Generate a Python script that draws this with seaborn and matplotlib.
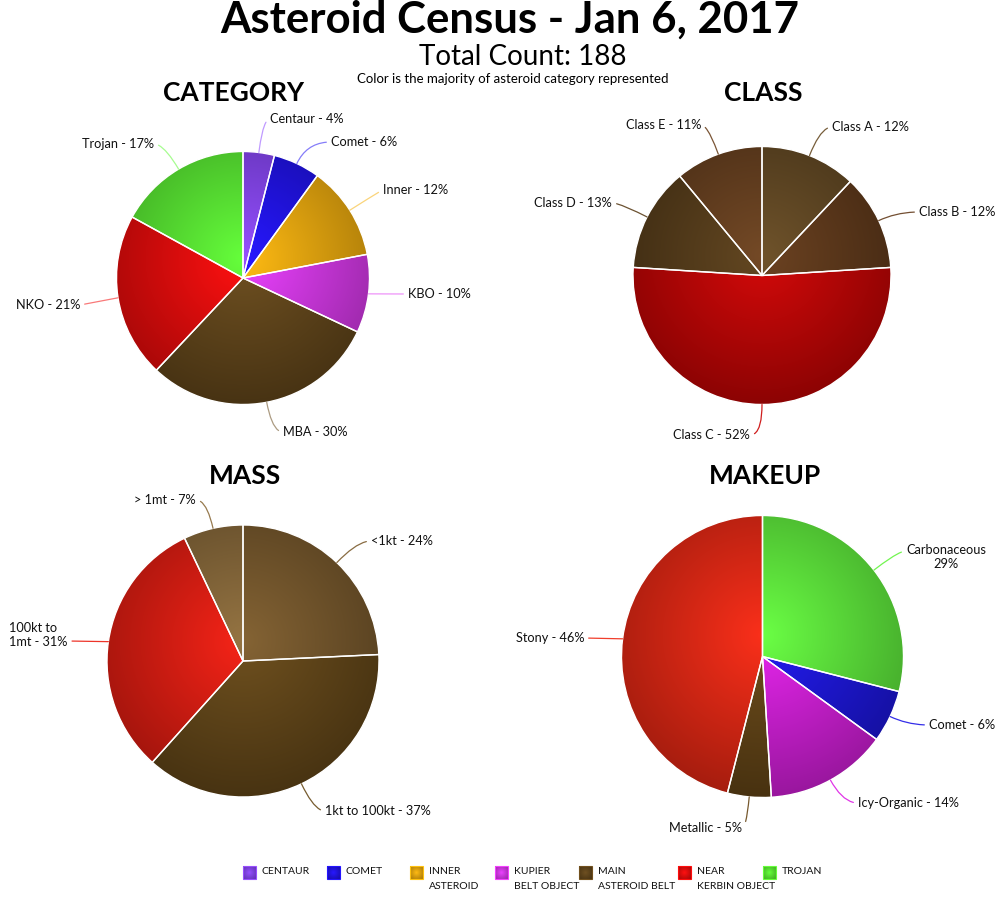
import numpy as np
import matplotlib
matplotlib.use("Agg")
import matplotlib.pyplot as plt
import matplotlib.colors as mcolors
from matplotlib.patches import Rectangle
import seaborn as sns

# ---------------- data ----------------
category_labels = ["Centaur", "Comet", "Inner", "KBO", "MBA", "NKO", "Trojan"]
category_values = [4, 6, 12, 10, 30, 21, 17]
category_colors = ["#7a3fe2", "#1d10d4", "#d69a0c", "#c333d4", "#5a4018", "#d40a0a", "#52d92e"]

class_labels = ["Class A", "Class B", "Class C", "Class D", "Class E"]
class_values = [12, 12, 52, 13, 11]
class_colors = ["#5a4220", "#573418", "#b00404", "#503818", "#5e3a1c"]

mass_labels = ["<1kt", "1kt to 100kt", "100kt to\n1mt", "> 1mt"]
mass_values = [24, 37, 31, 7]
mass_colors = ["#6c5028", "#5a4016", "#cc1a10", "#7a5e34"]

makeup_labels = ["Carbonaceous", "Comet", "Icy-Organic", "Metallic", "Stony"]
makeup_values = [29, 6, 14, 5, 46]
makeup_colors = ["#56d436", "#1a14c8", "#c01cc6", "#5a3e14", "#d02412"]

legend_labels = ["CENTAUR", "COMET", "INNER\nASTEROID", "KUPIER\nBELT OBJECT",
                 "MAIN\nASTEROID BELT", "NEAR\nKERBIN OBJECT", "TROJAN"]
legend_colors = ["#7a3fe2", "#1d10d4", "#d69a0c", "#c333d4", "#5a4018", "#d40a0a", "#52d92e"]

title = "Asteroid Census - Jan 6, 2017"
subtitle = "Total Count: 188"
note = "Color is the majority of asteroid category represented"

# ---------------- layout (pixel coordinates, y down) ----------------
H = 900
charts = [
    dict(name="CATEGORY", labels=category_labels, values=category_values, colors=category_colors,
         head=(233, 93), center=(243, 278), r=126.5, line_alpha=0.55,
         seps=[" - "] * 7,
         text=[(270, 119), (331, 142), (383, 190), (408, 294), (283, 432), (80, 305), (154, 144)],
         ha=["left", "left", "left", "left", "left", "right", "right"],
         rel=[None] * 7),
    dict(name="CLASS", labels=class_labels, values=class_values, colors=class_colors,
         head=(763, 93), center=(762, 275.5), r=129, line_alpha=0.9,
         seps=[" - "] * 5,
         text=[(832, 127), (919, 212), (750, 435), (612, 203), (701, 125)],
         ha=["left", "left", "right", "right", "right"],
         rel=[None] * 5),
    dict(name="MASS", labels=mass_labels, values=mass_values, colors=mass_colors,
         head=(245, 476), center=(243, 661), r=136, line_alpha=0.9,
         seps=[" - "] * 4,
         text=[(371, 541), (325, 811), (9, 634.5), (196, 500)],
         ha=["left", "left", "left", "right"],
         rel=[None, None, (1, 0.25), None]),
    dict(name="MAKEUP", labels=makeup_labels, values=makeup_values, colors=makeup_colors,
         head=(765, 476), center=(762.5, 656.5), r=141, line_alpha=0.9,
         seps=["\n", " - ", " - ", " - ", " - "],
         text=[(906, 557.5), (929, 725), (858, 803), (742, 828), (584, 638)],
         ha=["left", "left", "left", "right", "right"],
         rel=[(0, 0.75), None, None, None, None]),
]
legend_x = [243, 327, 410, 495, 579, 678, 763]

# ---------------- style ----------------
sns.set_theme(style="white")
plt.rcParams["font.family"] = ["Lato", "DejaVu Sans"]
plt.rcParams["text.color"] = "black"


def radial_image(base, n=200, focal=(0.0, 0.15), scale=1.2, lf=1.18, df=0.78):
    rgb = np.array(mcolors.to_rgb(base))
    light = np.clip(rgb * lf + 0.02, 0, 1)
    dark = rgb * df
    yy, xx = np.mgrid[-1:1:n * 1j, -1:1:n * 1j]
    t = np.clip(np.hypot(xx - focal[0], yy - focal[1]) / scale, 0, 1)[..., None]
    return light * (1 - t) + dark * t


fig = plt.figure(figsize=(10, 9), dpi=100)
ax = fig.add_axes([0, 0, 1, 1])

for ch in charts:
    cx, cy = ch["center"][0], H - ch["center"][1]
    r = ch["r"]
    wedges, _ = ax.pie(ch["values"], colors=ch["colors"], startangle=90, counterclock=False,
                       center=(cx, cy), radius=r, frame=True,
                       wedgeprops=dict(edgecolor="white", linewidth=1.0))
    for w, col in zip(wedges, ch["colors"]):
        im = ax.imshow(radial_image(col), extent=(cx - r, cx + r, cy - r, cy + r),
                       origin="lower", interpolation="bilinear", zorder=1)
        im.set_clip_path(w)
        w.set_facecolor("none")
        w.set_zorder(3)

    for w, lab, val, sep, (tx, ty), ha, rel, col in zip(
            wedges, ch["labels"], ch["values"], ch["seps"], ch["text"], ch["ha"], ch["rel"], ch["colors"]):
        ang = np.deg2rad((w.theta1 + w.theta2) / 2)
        ex, ey = cx + r * np.cos(ang), cy + r * np.sin(ang)
        if abs(np.sin(ang)) < 0.3:
            cs = "arc3,rad=0"
        else:
            cs = f"angle3,angleA=0,angleB={np.degrees(ang):.1f}"
        if rel is None:
            rel = (0, 0.5) if ha == "left" else (1, 0.5)
        lc = tuple(np.clip(np.array(mcolors.to_rgb(col)) * 1.15, 0, 1))
        ax.annotate(f"{lab}{sep}{val}%", xy=(ex, ey), xytext=(tx, H - ty),
                    ha=ha, va="center", fontsize=9.2, color="#111111",
                    multialignment="center" if sep == "\n" else "left",
                    arrowprops=dict(arrowstyle="-", color=lc, alpha=ch["line_alpha"], lw=0.9,
                                    connectionstyle=cs, relpos=rel, shrinkA=1, shrinkB=0),
                    zorder=4)

    ax.text(ch["head"][0], H - ch["head"][1], ch["name"], ha="center", va="center",
            fontsize=19, fontweight="bold", color="black")

# ---------------- legend ----------------
for x, lab, col in zip(legend_x, legend_labels, legend_colors):
    y0 = H - 879
    sq = Rectangle((x, y0), 13, 13, facecolor="none",
                   edgecolor=tuple(np.clip(np.array(mcolors.to_rgb(col)) * 1.25, 0, 1)),
                   lw=0.8, zorder=3)
    ax.add_patch(sq)
    im = ax.imshow(radial_image(col, n=40, focal=(0, 0), scale=1.4),
                   extent=(x, x + 13, y0, y0 + 13), origin="lower", zorder=2)
    im.set_clip_path(sq)
    ax.text(x + 19, H - 867, lab, ha="left", va="top", fontsize=7.5, linespacing=1.85, color="#111111")

# ---------------- titles ----------------
ax.text(510, H - 20, title, ha="center", va="center", fontsize=31.5, fontweight="bold", color="black")
ax.text(523, H - 57, subtitle, ha="center", va="center", fontsize=20, color="black")
ax.text(513, H - 79, note, ha="center", va="center", fontsize=9.5, color="black")

ax.set_xlim(0, 1000)
ax.set_ylim(0, H)
ax.set_aspect("auto")
ax.axis("off")
fig.savefig("out.png", dpi=100, facecolor="white")
